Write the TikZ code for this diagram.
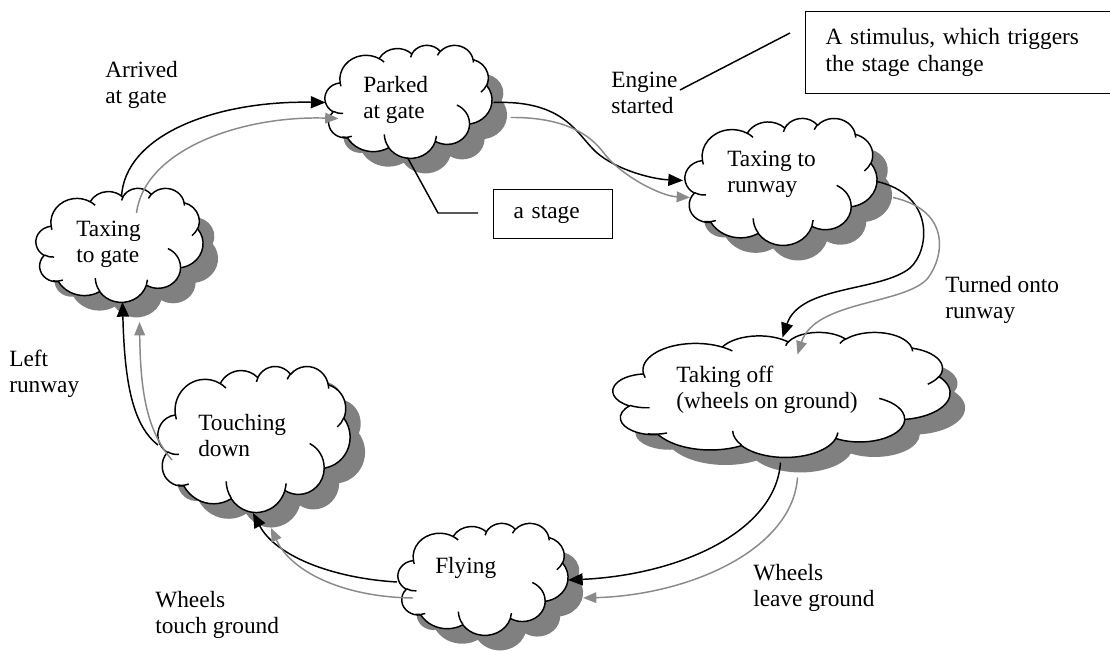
\documentclass[tikz,border=0pt]{standalone}
\usepackage{fontspec}
\setmainfont{Liberation Serif}
\usetikzlibrary{arrows.meta}
\newcommand\twoline[2]{\begin{tabular}[t]{@{}l@{}}#1\\#2\end{tabular}}
\definecolor{shadowgray}{HTML}{808080}
\definecolor{arrowgray}{HTML}{8A8A8A}
% Word-style cloud outline, in a 432 x 432 box (y downwards)
\newcommand\cloudoutline{(39.00,143.70)
  arc[start angle=172.25, end angle=300.36, x radius=67.53, y radius=91.90]
  arc[start angle=-152.02, end angle=-45.46, x radius=53.33, y radius=72.67]
  arc[start angle=-153.49, end angle=-37.32, x radius=43.65, y radius=59.45]
  arc[start angle=-139.72, end angle=-10.22, x radius=48.57, y radius=65.95]
  arc[start angle=-74.77, end angle=23.22, x radius=53.33, y radius=72.73]
  arc[start angle=-37.54, end angle=81.86, x radius=67.75, y radius=92.20]
  arc[start angle=0.46, end angle=121.99, x radius=57.85, y radius=78.67]
  arc[start angle=16.84, end angle=146.23, x radius=67.52, y radius=92.15]
  arc[start angle=58.98, end angle=150.19, x radius=77.20, y radius=105.43]
  arc[start angle=83.31, end angle=223.11, x radius=43.60, y radius=59.18]
  arc[start angle=120.35, end angle=264.11, x radius=43.45, y radius=59.45] -- cycle}
\newcommand\cloudinner{
  (46.93,261.77) arc[start angle=85.55, end angle=120.35, x radius=43.45, y radius=59.45]
  (69.28,348.99) arc[start angle=68.23, end angle=101.72, x radius=43.60, y radius=59.18]
  (164.78,390.90) arc[start angle=146.23, end angle=178.87, x radius=67.52, y radius=92.15]
  (288.27,347.51) arc[start angle=4.74, end angle=16.84, x radius=67.52, y radius=92.15]
  (341.29,229.54) arc[start angle=-64.03, end angle=0.36, x radius=57.85, y radius=78.67]
  (417.98,153.54) arc[start angle=23.22, end angle=49.64, x radius=53.33, y radius=72.73]
  (383.24,54.26) arc[start angle=-10.21, end angle=0.82, x radius=48.57, y radius=65.95]
  (290.78,39.52) arc[start angle=-156.29, end angle=-139.72, x radius=48.57, y radius=65.95]
  (221.41,47.20) arc[start angle=-167.73, end angle=-153.49, x radius=43.65, y radius=59.45]
  (140.00,51.92) arc[start angle=-59.64, end angle=-45.74, x radius=67.53, y radius=91.90]
  (41.27,157.89) arc[start angle=163.19, end angle=172.25, x radius=67.53, y radius=91.90]}
% \wcloud{name}{cx}{cy}{w}{h}  (px)
\newcommand\wcloud[5]{%
  \pgfmathsetmacro\cux{#4*0.75/432}%
  \pgfmathsetmacro\cuy{-#5*0.75/432}%
  \node[inner sep=0pt, minimum width=#4*0.75pt, minimum height=#5*0.75pt] (#1) at (#2,#3) {};
  \begin{scope}[shift={(#2-#4/2+15,#3-#5/2+15)}, x=\cux pt, y=\cuy pt]
    \fill[shadowgray] \cloudoutline;
  \end{scope}
  \begin{scope}[shift={(#2-#4/2,#3-#5/2)}, x=\cux pt, y=\cuy pt]
    \filldraw[cloudline, fill=white] \cloudoutline;
    \draw[cloudline] \cloudinner;
  \end{scope}}
\begin{document}
\begin{tikzpicture}[x=0.75pt,y=-0.75pt,
  font=\fontsize{17.5}{20}\selectfont,
  cloudline/.style={draw=black, line width=1.1pt, line join=round},
  lbl/.style={anchor=base west, inner sep=0pt},
  boxst/.style={draw=black, line width=0.9pt, rectangle, align=left},
  blk/.style={draw=black, line width=1.1pt, -{Triangle[length=11pt,width=9pt]}},
  gry/.style={draw=arrowgray, line width=1.1pt, -{Triangle[length=10pt,width=8pt]}},
  lead/.style={draw=black, line width=1.1pt}
]
\useasboundingbox (0,0) rectangle (1110,650);

% clouds
\wcloud{park}{408.5}{101.5}{167}{113}
\wcloud{runway}{781}{181.5}{192}{127}
\wcloud{gate}{119.5}{245}{167}{114}
\wcloud{takeoff}{781.5}{394.5}{337}{125}
\wcloud{touch}{254}{439}{192}{146}
\wcloud{fly}{483}{579}{170}{112}

% cloud texts
\node[lbl] (parkt) at (363,92) {\twoline{Parked}{at gate}};
\node[lbl] (runwayt) at (727,166) {\twoline{Taxing to}{runway}};
\node[lbl] (gatet) at (76,236) {\twoline{Taxing}{to gate}};
\node[lbl] (takeofft) at (676,382) {\twoline{Taking off}{(wheels on ground)}};
\node[lbl] (toucht) at (198,430) {\twoline{Touching}{down}};
\node[lbl] (flyt) at (435,573) {Flying};

% stimulus labels
\node[lbl] (arrived) at (105,77) {\twoline{Arrived}{at gate}};
\node[lbl] (engine) at (611,87) {\twoline{Engine}{started}};
\node[lbl] (turned) at (945,292) {\twoline{Turned onto}{runway}};
\node[lbl] (leftrw) at (9,366) {\twoline{Left}{runway}};
\node[lbl] (wleave) at (753,580) {\twoline{Wheels}{leave ground}};
\node[lbl] (wtouch) at (155,607) {\twoline{Wheels}{touch ground}};

% callout boxes
\node[boxst, anchor=north west, inner xsep=15pt, text width=210pt, minimum height=61.5pt] (stimbox) at (805,11)
  {A stimulus, which triggers\\the stage change};
\node[boxst, anchor=north west, inner xsep=15pt, text width=59pt, minimum height=36.75pt] (stagebox) at (493,189) {a stage};

% callout leaders
\coordinate (engA) at (680,90);
\coordinate (engB) at (790,33);
\draw[lead] (engA) -- (engB);
\coordinate (stgA) at (438,213);
\coordinate (stgB) at (478,213);
\draw[lead] ([shift={(-1,56)}]park.center) -- (stgA) -- (stgB);

% transitions: gate -> park
\draw[blk] ([shift={(2,-48)}]gate.center) .. controls +(3,-62) and +(-110,-2) .. ([shift={(-83,1)}]park.center);
\draw[gry] ([shift={(17,-32)}]gate.center) .. controls +(8,-63) and +(-98,-3) .. ([shift={(-70,17)}]park.center);

% park -> runway
\draw[blk] ([shift={(85,1)}]park.center) .. controls (560,100) and (575,130) .. (592,148)
   .. controls (610,168) and (650,179) .. ([shift={(-98,-1)}]runway.center);
\draw[gry] ([shift={(102,16)}]park.center) .. controls (565,117) and (590,135) .. (603,152)
   .. controls (620,175) and (660,196) .. ([shift={(-91,16)}]runway.center);

% runway -> takeoff
\draw[blk] ([shift={(96,0)}]runway.center) .. controls (935,195) and (930,250) .. (910,268)
   .. controls (880,292) and (800,285) .. ([shift={(1,-57)}]takeoff.center);
\draw[gry] ([shift={(112,16)}]runway.center) .. controls (950,210) and (945,255) .. (928,278)
   .. controls (905,305) and (815,300) .. ([shift={(16,-40)}]takeoff.center);

% takeoff -> fly
\draw[blk] ([shift={(-1,68)}]takeoff.center) .. controls +(-5,70) and +(110,-5) .. ([shift={(85,1)}]fly.center);
\draw[gry] ([shift={(16,83)}]takeoff.center) .. controls +(-5,72) and +(107,-3) .. ([shift={(100,19)}]fly.center);

% fly -> touch
\draw[blk] ([shift={(-86,3)}]fly.center) .. controls +(-67,-4) and +(22,42) .. ([shift={(-1,74)}]touch.center);
\draw[gry] ([shift={(-70,19)}]fly.center) .. controls +(-73,-1) and +(19,42) .. ([shift={(17,89)}]touch.center);

% touch -> gate
\draw[blk] ([shift={(-96,6)}]touch.center) .. controls +(-26,-20) and +(2,78) .. ([shift={(3,57)}]gate.center);
\draw[gry] ([shift={(-82,21)}]touch.center) .. controls +(-26,-30) and +(1,68) .. ([shift={(20,77)}]gate.center);
\end{tikzpicture}
\end{document}
